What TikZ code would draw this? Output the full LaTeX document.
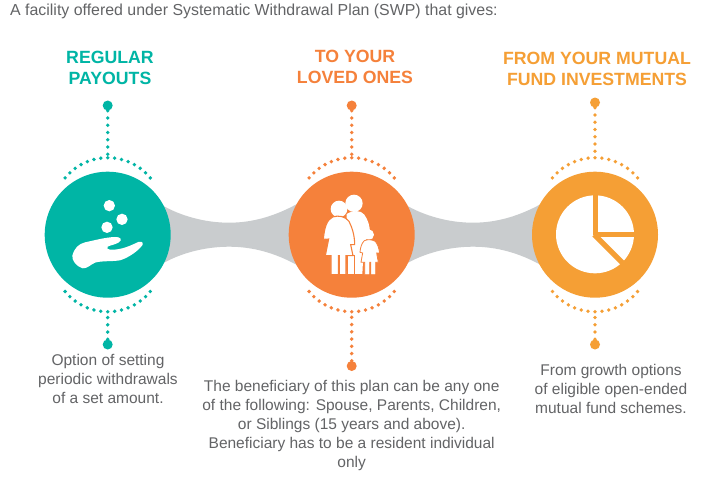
\documentclass[tikz,border=0pt]{standalone}
\usepackage{fontspec}
\setmainfont{Liberation Sans}
\definecolor{tealc}{HTML}{00B5A5}
\definecolor{orangec}{HTML}{F5813B}
\definecolor{yellowc}{HTML}{F59F35}
\definecolor{bandc}{HTML}{C9CCCE}
\definecolor{textc}{HTML}{636466}
\tikzset{
  bodytext/.style={text=textc,font=\fontsize{15.5}{19}\selectfont,align=center,inner sep=0pt},
  headtext/.style={font=\bfseries\fontsize{17.7}{21.5}\selectfont,align=center,inner sep=0pt},
  hub/.style={circle,minimum size=126pt,inner sep=0pt},
  enddot/.style={circle,minimum size=10pt,inner sep=0pt},
  stem/.style={line width=3.8pt,line cap=round,dash pattern=on 0pt off 7.25pt},
}
\newcommand{\band}[1]{%
  \fill[bandc,shift={(#1,0)}] (160,204) .. controls (180,216) and (205,222.7) .. (229,222.7)
    .. controls (253,222.7) and (275,216) .. (297,204) -- (297,265)
    .. controls (275,253) and (253,246.7) .. (229,246.7)
    .. controls (205,246.7) and (180,253) .. (160,265) -- cycle;}
\newcommand{\ringdots}[2]{%
  \foreach \a in {-7,...,7}{
    \fill[#2] ({#1+55*sin(\a*7.25)},{234.7-22-55*cos(\a*7.25)}) circle (1.9);
    \fill[#2] ({#1+55*sin(\a*7.25)},{234.7+22+55*cos(\a*7.25)}) circle (1.9);
  }
}
\begin{document}
\begin{tikzpicture}[x=1pt,y=-1pt]
\useasboundingbox (0,0) rectangle (725,483);
\fill[white] (0,0) rectangle (725,483);
\node[anchor=west,text=textc,font=\fontsize{15.9}{18}\selectfont,inner sep=0pt] (title) at (10,11) {A facility offered under Systematic Withdrawal Plan (SWP) that gives:};

\band{0}
\band{244}

\node[hub,fill=tealc] (c1) at (107.7,234.7) {};
\node[hub,fill=orangec] (c2) at (351.7,234.7) {};
\node[hub,fill=yellowc] (c3) at (595,234.7) {};

\ringdots{107.7}{tealc}
\ringdots{351.7}{orangec}
\ringdots{595}{yellowc}

\node[enddot,fill=tealc] (t1) at (107.7,105.5) {};
\node[enddot,fill=tealc] (b1) at (107.7,344.5) {};
\node[enddot,fill=orangec] (t2) at (351.7,105.5) {};
\node[enddot,fill=orangec] (b2) at (351.7,366) {};
\node[enddot,fill=yellowc] (t3) at (595,102.5) {};
\node[enddot,fill=yellowc] (b3) at (595,344.5) {};

\draw[stem,tealc] (t1) -- (107.7,156);
\draw[stem,tealc] (b1) -- (107.7,313);
\draw[stem,orangec] (t2) -- (351.7,156);
\draw[stem,orangec] (b2) -- (351.7,313);
\draw[stem,yellowc] (t3) -- (595,156);
\draw[stem,yellowc] (b3) -- (595,313);

% hand icon
\begin{scope}[shift={(30,90)},x=0.3333pt,y=-0.3333pt]
\fill[white] (238,347) circle (17) (276,388) circle (17) (231,412) circle (17);
\fill[white] (127,497) .. controls (133,475) and (145,462) .. (165,457)
  .. controls (190,452) and (225,442) .. (255,441)
  .. controls (272,440) and (280,450) .. (265,458)
  .. controls (255,464) and (240,466) .. (233,470)
  .. controls (230,474) and (232,479) .. (240,479)
  .. controls (275,481) and (305,465) .. (325,456)
  .. controls (340,452) and (343,462) .. (332,472)
  .. controls (315,490) and (290,505) .. (270,511)
  .. controls (245,515) and (215,512) .. (195,518)
  .. controls (180,525) and (172,536) .. (158,535)
  .. controls (140,530) and (125,512) .. (127,497) -- cycle;
\end{scope}

% family icon
\begin{scope}[shift={(270,140)},x=0.3333pt,y=-0.3333pt]
\fill[white] (252,190) circle (26);
\fill[white] (230,222) .. controls (250,210) and (272,210) .. (283,224)
  .. controls (294,240) and (299,255) .. (300,278) -- (282,310) -- (277,402)
  -- (254,402) -- (254,345) -- (250,345) -- (230,402) -- (232,340) -- cycle;
\fill[white,draw=orangec,line width=0.9pt] (232,345) rectangle (252,404);
\fill[white] (256,345) rectangle (277,402);
\fill[white] (207,207) circle (25);
\fill[white,draw=orangec,line width=1.1pt] (188,231) .. controls (205,225) and (226,229) .. (237,244)
  .. controls (246,262) and (254,285) .. (254,314) -- (242,314) -- (249,347)
  -- (228,347) -- (228,404) -- (208,404) -- (208,347) -- (205,347) -- (205,404) -- (183,404)
  -- (183,347) -- (166,347) -- (176,297) -- (170,298) -- (160,297)
  .. controls (163,265) and (170,239) .. (188,231) -- cycle;
\fill[white] (296,284) circle (16);
\fill[white,draw=orangec,line width=0.8pt] (283,302) .. controls (295,297) and (306,299) .. (316,304)
  .. controls (323,312) and (327,325) .. (329,339) -- (320,339) -- (325,367)
  -- (317,367) -- (317,404) -- (302,404) -- (302,367) -- (299,367) -- (299,404) -- (284,404)
  -- (284,367) -- (273,367) -- (278,339) -- (270,337)
  .. controls (271,322) and (275,310) .. (283,302) -- cycle;
\end{scope}

% pie icon
\begin{scope}[shift={(510,140)},x=0.3333pt,y=-0.3333pt]
\fill[white] (255,283) circle (117);
\draw[yellowc,line width=5pt] (255.5,150) -- (255.5,284);
\draw[yellowc,line width=5.5pt] (255.5,283.5) -- (385,283.5);
\draw[yellowc,line width=5.2pt] (253,284) -- (350,381);
\end{scope}

\node[headtext,text=tealc] (h1) at (110,68) {REGULAR\\PAYOUTS};
\node[headtext,text=orangec] (h2) at (355,67) {TO YOUR\\LOVED ONES};
\node[headtext,text=yellowc] (h3) at (597,69) {FROM YOUR MUTUAL\\FUND INVESTMENTS};

\node[bodytext] (d1) at (108,379) {Option of setting\\periodic withdrawals\\of a set amount.};
\node[bodytext] (d2) at (351.7,425) {The beneficiary of this plan can be any one\\of the following: Spouse, Parents, Children,\\or Siblings (15 years and above).\\Beneficiary has to be a resident individual\\only};
\node[bodytext] (d3) at (611,389) {From growth options\\of eligible open-ended\\mutual fund schemes.};
\end{tikzpicture}
\end{document}
